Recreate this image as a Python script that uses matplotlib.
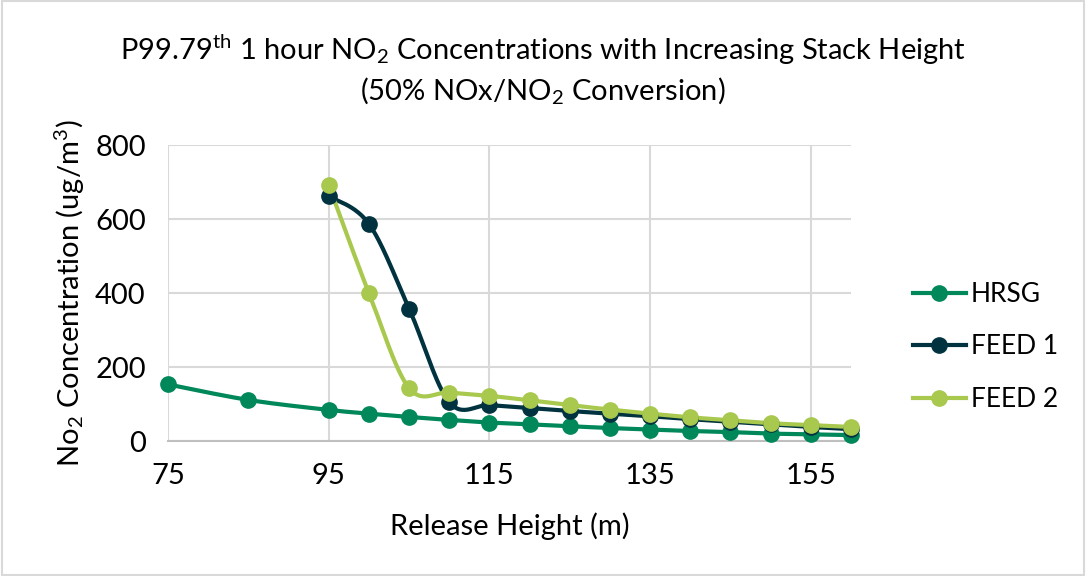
import matplotlib
matplotlib.use('Agg')
import matplotlib.pyplot as plt
import numpy as np

plt.rcParams['font.family'] = ['Lato', 'DejaVu Sans']
plt.rcParams['mathtext.fontset'] = 'custom'
plt.rcParams['mathtext.rm'] = 'Lato'
plt.rcParams['mathtext.it'] = 'Lato:italic'

x_hrsg = [75, 85, 95, 100, 105, 110, 115, 120, 125, 130, 135, 140, 145, 150, 155, 160]
hrsg = [153, 111, 84, 74, 65, 57, 50, 45, 40, 35, 31, 27, 24, 20, 18, 16]
x_feed = [95, 100, 105, 110, 115, 120, 125, 130, 135, 140, 145, 150, 155, 160]
feed1 = [662, 587, 358, 105, 97, 89, 81, 74, 67, 59, 52, 45, 38, 32]
feed2 = [692, 400, 143, 131, 122, 110, 97, 85, 74, 64, 56, 48, 43, 38]

names = ['HRSG', 'FEED 1', 'FEED 2']
colors = ['#00875A', '#00333F', '#A8C84E']


def smooth(xs, ys, n=30):
    # catmull-rom style curve like excel smoothed lines
    xs = np.array(xs, float)
    ys = np.array(ys, float)
    px = np.concatenate([[xs[0]], xs, [xs[-1]]])
    py = np.concatenate([[ys[0]], ys, [ys[-1]]])
    ox, oy = [], []
    for i in range(1, len(px) - 2):
        p0 = np.array([px[i - 1], py[i - 1]])
        p1 = np.array([px[i], py[i]])
        p2 = np.array([px[i + 1], py[i + 1]])
        p3 = np.array([px[i + 2], py[i + 2]])
        c1 = p1 + (p2 - p0) / 6
        c2 = p2 - (p3 - p1) / 6
        t = np.linspace(0, 1, n)[:, None]
        b = (1 - t) ** 3 * p1 + 3 * (1 - t) ** 2 * t * c1 + 3 * (1 - t) * t ** 2 * c2 + t ** 3 * p2
        ox.extend(b[:, 0])
        oy.extend(b[:, 1])
    return ox, oy


fig = plt.figure(figsize=(10.86, 5.76), dpi=100)
ax = fig.add_axes([168 / 1086, 1 - 441 / 576, (851 - 168) / 1086, (441 - 145) / 576])

for xs, ys, name, c in zip([x_hrsg, x_feed, x_feed], [hrsg, feed1, feed2], names, colors):
    sx, sy = smooth(xs, ys)
    ax.plot(sx, sy, color=c, lw=3, solid_capstyle='round', zorder=3, clip_on=False)
    ax.plot(xs, ys, 'o', color=c, ms=11, zorder=4, clip_on=False)
    ax.plot([], [], '-o', color=c, lw=3, ms=11, label=name)

ax.set_xlim(75, 160)
ax.set_ylim(0, 800)
ax.set_xticks([75, 95, 115, 135, 155])
ax.set_yticks([0, 200, 400, 600, 800])
ax.grid(True, color='#D9D9D9', lw=1.5)
ax.set_axisbelow(True)
for s in ['top', 'right', 'left']:
    ax.spines[s].set_visible(False)
ax.spines['bottom'].set_color('#BFBFBF')
ax.spines['bottom'].set_linewidth(1.5)
ax.tick_params(length=0, labelsize=21)
ax.tick_params(axis='x', pad=16)
ax.tick_params(axis='y', pad=16)
ax.set_xlabel('Release Height (m)', fontsize=21, labelpad=17)
ax.set_ylabel('No$_2$ Concentration (ug/m$^3$)', fontsize=21, labelpad=6)

fig.text(0.5, 1 - 50 / 576, r'P99.79$^{\mathrm{th}}$ 1 hour NO$_2$ Concentrations with Increasing Stack Height',
         ha='center', va='center', fontsize=21)
fig.text(0.5, 1 - 90 / 576, r'(50% NOx/NO$_2$ Conversion)', ha='center', va='center', fontsize=21)

ax.legend(loc='center left', bbox_to_anchor=((913 - 168) / 683, (441 - 347) / 296), frameon=False,
          fontsize=19, handlelength=2.0, handletextpad=0.2, labelspacing=1.05,
          borderaxespad=0, borderpad=0)

fig.patches.append(plt.Rectangle((0.002, 0.002), 0.996, 0.996, transform=fig.transFigure,
                                 fill=False, edgecolor='#D9D9D9', lw=1.5))

fig.savefig('out.png', dpi=100)
